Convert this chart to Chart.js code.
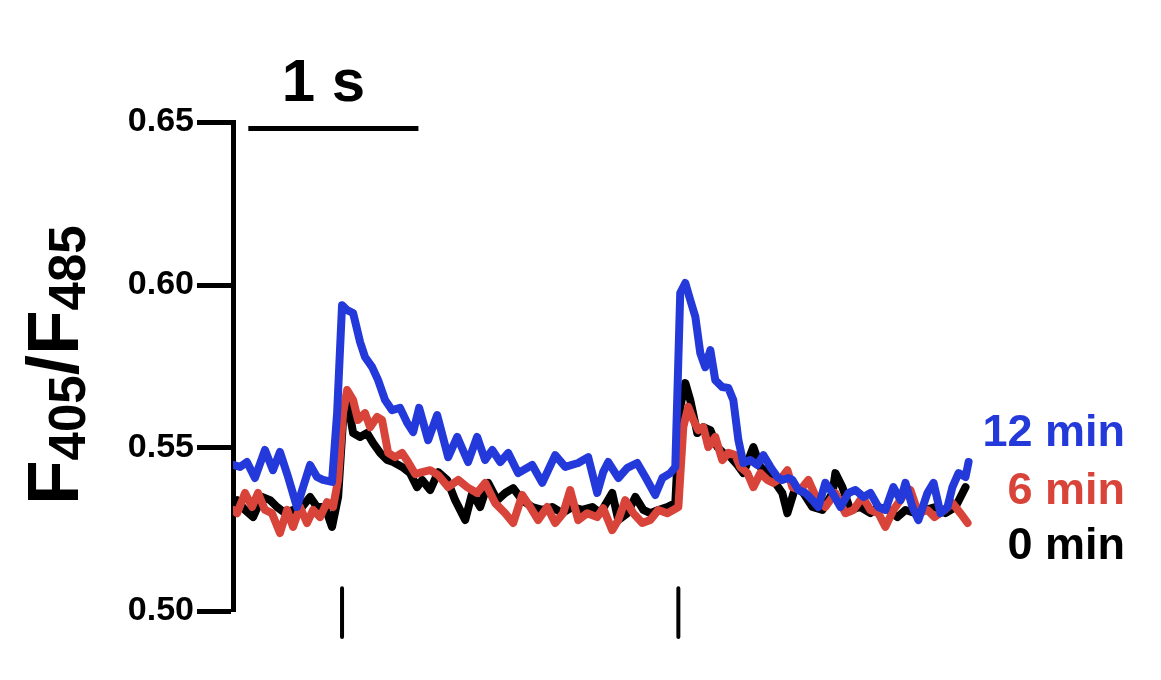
<!DOCTYPE html>
<html>
<head>
<meta charset="utf-8">
<script src="https://cdn.jsdelivr.net/npm/chart.js@4.4.1/dist/chart.umd.min.js"></script>
<style>
  html, body { margin: 0; padding: 0; background: #fff; }
  #wrap { width: 1161px; height: 680px; position: relative; }
</style>
</head>
<body>
<div id="wrap"><canvas id="myChart"></canvas></div>
<script>
// time in s, ratio F405/F485
const timeBlue = [0.000,0.041,0.082,0.129,0.188,0.235,0.276,0.324,0.376,0.412,
  0.453,0.494,0.529,0.582,0.612,0.641,0.671,0.706,0.747,0.776,
  0.818,0.853,0.894,0.935,0.982,1.024,1.059,1.094,1.147,1.200,
  1.265,1.318,1.382,1.435,1.482,1.524,1.571,1.618,1.676,1.759,
  1.818,1.894,1.953,2.029,2.088,2.141,2.176,2.206,2.265,2.318,
  2.376,2.424,2.482,2.524,2.571,2.600,2.629,2.659,2.688,2.718,
  2.747,2.776,2.806,2.835,2.876,2.912,2.941,2.971,3.000,3.041,
  3.082,3.118,3.159,3.200,3.229,3.265,3.288,3.324,3.365,3.406,
  3.441,3.482,3.524,3.571,3.618,3.659,3.706,3.747,3.794,3.835,
  3.882,3.924,3.953,3.994,4.029,4.082,4.118,4.159,4.200,4.229,
  4.265,4.306,4.324];
const ratioBlue = [0.5448,0.5442,0.5457,0.5408,0.5494,0.5432,0.5488,0.5411,0.5319,0.5380,
  0.5448,0.5411,0.5402,0.5396,0.5607,0.5938,0.5923,0.5914,0.5825,0.5779,
  0.5748,0.5708,0.5647,0.5616,0.5623,0.5577,0.5549,0.5623,0.5524,0.5601,
  0.5472,0.5534,0.5457,0.5534,0.5463,0.5494,0.5457,0.5485,0.5423,0.5448,
  0.5393,0.5478,0.5442,0.5454,0.5472,0.5362,0.5426,0.5457,0.5408,0.5439,
  0.5454,0.5411,0.5356,0.5408,0.5423,0.5442,0.5975,0.6006,0.5954,0.5902,
  0.5791,0.5748,0.5800,0.5708,0.5687,0.5684,0.5647,0.5524,0.5454,0.5463,
  0.5448,0.5478,0.5442,0.5411,0.5402,0.5408,0.5402,0.5371,0.5362,0.5340,
  0.5319,0.5393,0.5362,0.5319,0.5362,0.5371,0.5350,0.5362,0.5319,0.5310,
  0.5380,0.5340,0.5393,0.5319,0.5279,0.5362,0.5393,0.5300,0.5319,0.5380,
  0.5423,0.5411,0.5457];

const timeRed = [0.000,0.024,0.071,0.112,0.147,0.188,0.229,0.276,0.318,0.353,
  0.394,0.435,0.471,0.512,0.553,0.588,0.618,0.647,0.671,0.706,
  0.735,0.776,0.806,0.847,0.876,0.912,0.953,0.994,1.029,1.071,
  1.112,1.159,1.206,1.265,1.324,1.376,1.435,1.482,1.541,1.600,
  1.647,1.700,1.747,1.794,1.847,1.894,1.941,1.982,2.029,2.082,
  2.141,2.176,2.229,2.265,2.306,2.353,2.406,2.453,2.500,2.553,
  2.588,2.618,2.647,2.676,2.706,2.735,2.765,2.794,2.835,2.876,
  2.912,2.953,2.982,3.024,3.059,3.100,3.141,3.176,3.229,3.259,
  3.288,3.335,3.382,3.435,3.482,3.541,3.600,3.647,3.700,3.747,
  3.794,3.835,3.882,3.935,3.982,4.029,4.082,4.124,4.182,4.229,
  4.276,4.318];
const ratioRed = [0.5310,0.5300,0.5362,0.5319,0.5362,0.5310,0.5300,0.5239,0.5310,0.5258,
  0.5319,0.5270,0.5310,0.5288,0.5334,0.5319,0.5402,0.5607,0.5678,0.5647,
  0.5586,0.5607,0.5564,0.5595,0.5586,0.5485,0.5472,0.5485,0.5457,0.5420,
  0.5426,0.5432,0.5417,0.5380,0.5402,0.5380,0.5362,0.5393,0.5331,0.5300,
  0.5270,0.5356,0.5319,0.5279,0.5319,0.5270,0.5300,0.5371,0.5279,0.5300,
  0.5288,0.5315,0.5248,0.5279,0.5340,0.5300,0.5270,0.5279,0.5310,0.5300,
  0.5310,0.5319,0.5564,0.5626,0.5586,0.5555,0.5564,0.5503,0.5534,0.5463,
  0.5485,0.5478,0.5442,0.5423,0.5380,0.5423,0.5402,0.5393,0.5411,0.5432,
  0.5380,0.5371,0.5402,0.5340,0.5319,0.5362,0.5300,0.5310,0.5350,0.5310,
  0.5300,0.5258,0.5310,0.5350,0.5371,0.5300,0.5310,0.5288,0.5310,0.5331,
  0.5300,0.5270];

const timeBlack = [0.000,0.024,0.071,0.118,0.171,0.218,0.259,0.306,0.353,0.406,
  0.453,0.494,0.541,0.582,0.618,0.647,0.676,0.706,0.747,0.788,
  0.824,0.865,0.906,0.941,0.994,1.041,1.082,1.112,1.159,1.206,
  1.259,1.306,1.365,1.406,1.453,1.500,1.553,1.600,1.647,1.700,
  1.759,1.818,1.876,1.935,1.994,2.053,2.112,2.159,2.229,2.265,
  2.318,2.365,2.412,2.453,2.500,2.553,2.600,2.629,2.659,2.688,
  2.729,2.765,2.806,2.847,2.882,2.924,2.965,3.000,3.059,3.100,
  3.141,3.176,3.229,3.259,3.306,3.353,3.406,3.465,3.524,3.541,
  3.582,3.629,3.688,3.747,3.794,3.853,3.906,3.953,4.012,4.071,
  4.129,4.188,4.247,4.306];
const ratioBlack = [0.5334,0.5340,0.5310,0.5288,0.5350,0.5340,0.5319,0.5300,0.5310,0.5319,
  0.5350,0.5319,0.5319,0.5258,0.5350,0.5586,0.5638,0.5546,0.5534,0.5546,
  0.5515,0.5485,0.5463,0.5457,0.5442,0.5423,0.5380,0.5402,0.5371,0.5426,
  0.5402,0.5340,0.5279,0.5362,0.5319,0.5393,0.5340,0.5362,0.5377,0.5340,
  0.5319,0.5310,0.5319,0.5300,0.5319,0.5310,0.5319,0.5300,0.5362,0.5279,
  0.5300,0.5350,0.5310,0.5300,0.5310,0.5319,0.5331,0.5626,0.5699,0.5647,
  0.5546,0.5564,0.5555,0.5503,0.5485,0.5472,0.5448,0.5423,0.5503,0.5442,
  0.5423,0.5402,0.5362,0.5300,0.5380,0.5362,0.5319,0.5310,0.5362,0.5423,
  0.5380,0.5310,0.5319,0.5300,0.5319,0.5310,0.5288,0.5310,0.5300,0.5310,
  0.5319,0.5300,0.5319,0.5380];

const seriesLabels = ["12 min", "6 min", "0 min"];
const yTicks = [0.50, 0.55, 0.60, 0.65];
const stimTimes = [0.641, 2.618];      // stimulus marks
const stimRange = [0.507, 0.492];
const scaleBarTime = [0.09, 1.09];     // 1 s bar
const scaleBarLevel = 0.648;

const BLUE = "#2339d9";
const RED = "#d8443a";
const FONT = "'Liberation Sans', Arial, Helvetica, sans-serif";

function pts(t, v) {
  return t.map((x, i) => ({ x: x, y: v[i] }));
}

// stimulus lines, split with a gap
let stimPts = [];
stimTimes.forEach(function (t) {
  stimPts.push({ x: t, y: stimRange[0] });
  stimPts.push({ x: t, y: stimRange[1] });
  stimPts.push({ x: t, y: null });
});

// texts: axis title with subscripts, scale bar label, trace labels
const textPlugin = {
  id: "texts",
  afterDraw(chart) {
    const ctx = chart.ctx;
    const xs = chart.scales.x;
    ctx.save();
    ctx.fillStyle = "#000";
    ctx.textBaseline = "alphabetic";

    // "1 s"
    ctx.font = "bold 60px " + FONT;
    ctx.textAlign = "center";
    const mid = xs.getPixelForValue((scaleBarTime[0] + scaleBarTime[1]) / 2);
    ctx.fillText("1 s", mid - 10, 101);

    // y title
    ctx.save();
    ctx.translate(78, 505);
    ctx.rotate(-Math.PI / 2);
    ctx.textAlign = "left";
    let x = 0;
    const parts = [["F", 73, 0], ["405", 51, 7], ["/F", 73, 0], ["485", 51, 7]];
    parts.forEach(function (p) {
      ctx.font = "bold " + p[1] + "px " + FONT;
      ctx.fillText(p[0], x, p[2]);
      x += ctx.measureText(p[0]).width;
    });
    ctx.restore();

    // labels at right
    ctx.font = "bold 45px " + FONT;
    ctx.textAlign = "right";
    const cols = [BLUE, RED, "#000"];
    const ys = [446, 504, 559];
    seriesLabels.forEach(function (s, i) {
      ctx.fillStyle = cols[i];
      ctx.fillText(s, 1125, ys[i]);
    });
    ctx.restore();
  }
};

const LW = 8;
const ctx = document.getElementById("myChart").getContext("2d");
const myChart = new Chart(ctx, {
  type: "line",
  data: {
    datasets: [
      { label: seriesLabels[0], data: pts(timeBlue, ratioBlue), borderColor: BLUE, borderWidth: LW },
      { label: seriesLabels[1], data: pts(timeRed, ratioRed), borderColor: RED, borderWidth: LW },
      { label: seriesLabels[2], data: pts(timeBlack, ratioBlack), borderColor: "#000", borderWidth: LW },
      { label: "bar", data: scaleBarTime.map(t => ({ x: t, y: scaleBarLevel })),
        borderColor: "#000", borderWidth: 5, borderCapStyle: "butt", clip: false },
      { label: "stim", data: stimPts, borderColor: "#000", borderWidth: 4,
        spanGaps: false, clip: false, borderCapStyle: "round" }
    ]
  },
  options: {
    responsive: true,
    maintainAspectRatio: false,
    animation: false,
    layout: { padding: { left: 100, right: 188, top: 122, bottom: 69 } },
    elements: {
      line: { tension: 0, borderJoinStyle: "round", borderCapStyle: "round" },
      point: { radius: 0 }
    },
    plugins: { legend: { display: false }, tooltip: { enabled: false } },
    scales: {
      x: { type: "linear", min: 0, max: 4.35, display: false },
      y: {
        min: 0.50, max: 0.65,
        afterFit: function (s) { s.width = 133; },
        afterBuildTicks: function (s) { s.ticks = yTicks.map(v => ({ value: v })); },
        border: { display: true, color: "#000", width: 5 },
        grid: { drawOnChartArea: false, drawTicks: true, tickLength: 36, tickColor: "#000", tickWidth: 5 },
        ticks: {
          color: "#000", padding: 3,
          font: { family: FONT, size: 34, weight: "bold" },
          callback: v => v.toFixed(2)
        }
      }
    }
  },
  plugins: [textPlugin]
});
</script>
</body>
</html>
